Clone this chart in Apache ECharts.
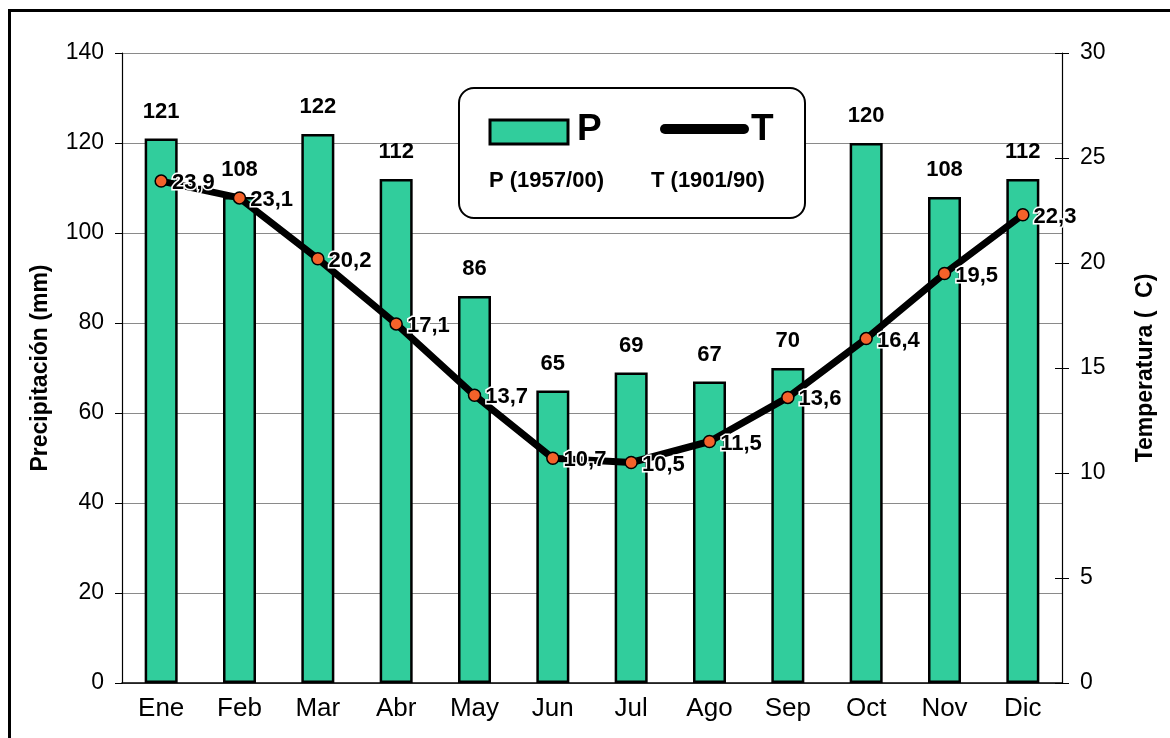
<!DOCTYPE html>
<html>
<head>
<meta charset="utf-8">
<script src="https://cdn.jsdelivr.net/npm/echarts@6/dist/echarts.min.js"></script>
<style>
  html, body { margin: 0; padding: 0; background: #fff; }
  #chart { width: 1170px; height: 738px; }
</style>
</head>
<body>
<div id="chart"></div>
<script>
// datos mensuales
let months = ["Ene", "Feb", "Mar", "Abr", "May", "Jun", "Jul", "Ago", "Sep", "Oct", "Nov", "Dic"];
let precip = [121, 108, 122, 112, 86, 65, 69, 67, 70, 120, 108, 112];
let temp = [23.9, 23.1, 20.2, 17.1, 13.7, 10.7, 10.5, 11.5, 13.6, 16.4, 19.5, 22.3];

let font = "Liberation Sans";
let green = "#31cd9c";

let chart = echarts.init(document.getElementById("chart"));

let option = {
    backgroundColor: "#fff",
    textStyle: { fontFamily: font, color: "#000" },
    animation: false,
    grid: { left: 122, right: 108, top: 53, bottom: 55 },
    xAxis: {
        type: "category",
        data: months,
        axisLine: { lineStyle: { color: "#000", width: 1.5 } },
        axisTick: { length: 9, lineStyle: { color: "#000", width: 1.2 } },
        axisLabel: { fontSize: 26, color: "#000", margin: 13 }
    },
    yAxis: [
        {
            type: "value", position: "left", min: 0, max: 140, interval: 20,
            name: "Precipitación (mm)", nameLocation: "middle", nameGap: 70,
            nameTextStyle: { fontSize: 23, fontWeight: "bold", color: "#000" },
            axisLine: { show: true, lineStyle: { color: "#000", width: 1.2 } },
            axisTick: { show: true, length: 7, lineStyle: { color: "#000" } },
            axisLabel: { fontSize: 23, color: "#000", margin: 18 },
            splitLine: { lineStyle: { color: "#8a8a8a", width: 1 } }
        },
        {
            type: "value", position: "right", min: 0, max: 30, interval: 5,
            name: "Temperatura (  C)", nameLocation: "middle", nameGap: 72,
            nameTextStyle: { fontSize: 23, fontWeight: "bold", color: "#000" },
            axisLine: { show: true, lineStyle: { color: "#000", width: 1.2 } },
            axisTick: { show: true, length: 7, lineStyle: { color: "#000" } },
            axisLabel: { fontSize: 23, color: "#000", margin: 18 },
            splitLine: { show: false }
        },
        {
            // marcas interiores del eje derecho
            type: "value", position: "right", min: 0, max: 30, interval: 5,
            axisLine: { show: false },
            axisTick: { show: true, inside: true, length: 7, lineStyle: { color: "#000" } },
            axisLabel: { show: false },
            splitLine: { show: false }
        }
    ],
    series: [
        {
            name: "P",
            type: "bar",
            yAxisIndex: 0,
            data: precip,
            barWidth: 33,
            itemStyle: { color: green, borderColor: "#000", borderWidth: 2.5 },
            label: {
                show: true, position: "top", distance: 16,
                fontSize: 22, fontWeight: "bold", color: "#000"
            },
            z: 2
        },
        {
            name: "T",
            type: "line",
            yAxisIndex: 1,
            data: temp,
            symbol: "circle",
            symbolSize: 12,
            lineStyle: { color: "#000", width: 7 },
            itemStyle: { color: "#f4622a", borderColor: "#000", borderWidth: 1.5 },
            label: {
                show: true, position: "right", distance: 4,
                fontSize: 22, fontWeight: "bold", color: "#000",
                textBorderColor: "#fff", textBorderWidth: 3,
                offset: [0, 2],
                formatter: p => String(p.value).replace(".", ",")
            },
            z: 5
        }
    ],
    graphic: [
        // marco exterior
        { type: "rect", shape: { x: 9.5, y: 10.5, width: 1200, height: 800 },
          style: { fill: "none", stroke: "#000", lineWidth: 3 }, silent: true, z: 100 },
        // leyenda
        { type: "rect", shape: { x: 459, y: 88, width: 346, height: 130, r: 15 },
          style: { fill: "#fff", stroke: "#000", lineWidth: 2 }, z: 50 },
        { type: "rect", shape: { x: 490, y: 120, width: 78, height: 24 },
          style: { fill: green, stroke: "#000", lineWidth: 3 }, z: 51 },
        { type: "text", left: 577, top: 111,
          style: { text: "P", font: "bold 37px '" + font + "'", fill: "#000" }, z: 51 },
        { type: "line", shape: { x1: 665, y1: 129, x2: 744, y2: 129 },
          style: { stroke: "#000", lineWidth: 10, lineCap: "round" }, z: 51 },
        { type: "text", left: 751, top: 111,
          style: { text: "T", font: "bold 37px '" + font + "'", fill: "#000" }, z: 51 },
        { type: "text", left: 489, top: 170,
          style: { text: "P (1957/00)", font: "bold 22px '" + font + "'", fill: "#000" }, z: 51 },
        { type: "text", left: 651, top: 170,
          style: { text: "T (1901/90)", font: "bold 22px '" + font + "'", fill: "#000" }, z: 51 }
    ]
};

chart.setOption(option);
</script>
</body>
</html>
